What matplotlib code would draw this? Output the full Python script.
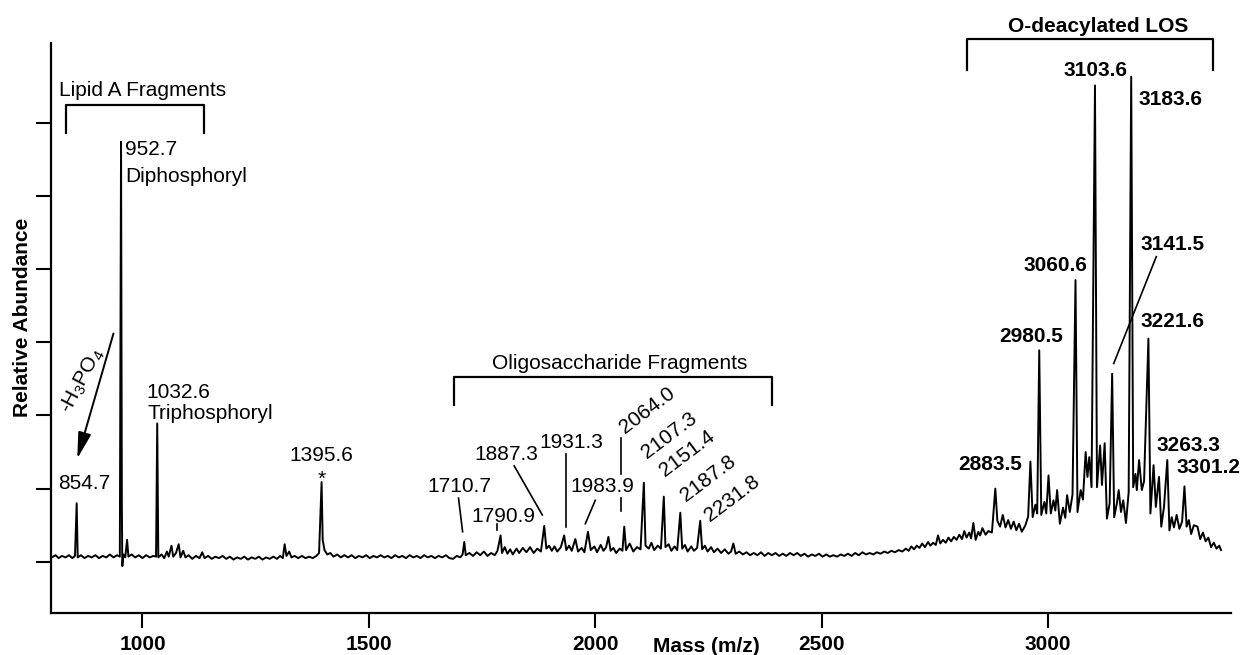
import matplotlib
matplotlib.use("Agg")
import matplotlib.pyplot as plt

plt.rcParams["font.family"] = ["Liberation Sans", "DejaVu Sans"]
plt.rcParams["mathtext.default"] = "regular"

# spectrum trace (m/z, abundance in y-tick units)
trace_mz = [
    800, 808, 815, 822, 830, 838, 845, 851, 854.7, 857, 864, 872, 880, 888, 896, 904,
    912, 920, 928, 936, 944, 950, 952.7, 954.5, 955.5, 958, 962, 966, 969, 976, 984,
    992, 1000, 1008, 1016, 1024, 1030, 1032.6, 1035, 1042, 1048, 1054, 1058, 1064,
    1068, 1074, 1080, 1084, 1090, 1095, 1102, 1110, 1118, 1126, 1132, 1137, 1145,
    1153, 1161, 1169, 1177, 1185, 1193, 1201, 1209, 1217, 1225, 1233, 1241, 1249,
    1257, 1265, 1273, 1281, 1289, 1297, 1304, 1310, 1314, 1318, 1324, 1329, 1336,
    1344, 1352, 1360, 1368, 1376, 1384, 1390, 1395.6, 1398, 1402, 1408, 1415, 1422,
    1430, 1438, 1446, 1454, 1462, 1470, 1478, 1486, 1494, 1502, 1510, 1518, 1526,
    1534, 1542, 1550, 1558, 1566, 1574, 1582, 1590, 1598, 1606, 1614, 1622, 1630,
    1638, 1646, 1654, 1662, 1670, 1678, 1686, 1694, 1702, 1707, 1710.7, 1714, 1722,
    1730, 1738, 1746, 1754, 1762, 1770, 1778, 1784, 1790.9, 1794, 1800, 1806, 1812,
    1818, 1826, 1832, 1840, 1848, 1856, 1864, 1872, 1880, 1887.3, 1892, 1898, 1904,
    1910, 1916, 1924, 1931.3, 1936, 1942, 1948, 1956, 1962, 1970, 1976, 1983.9, 1990,
    1998, 2004, 2012, 2018, 2024, 2029, 2034, 2040, 2046, 2054, 2060, 2064.0, 2068,
    2076, 2084, 2092, 2100, 2107.3, 2111, 2118, 2124, 2130, 2138, 2145, 2151.4, 2155,
    2162, 2168, 2175, 2181, 2187.8, 2192, 2198, 2204, 2212, 2218, 2225, 2231.8, 2236,
    2242, 2248, 2256, 2262, 2270, 2278, 2286, 2294, 2300, 2305, 2310, 2318, 2326,
    2334, 2342, 2350, 2358, 2366, 2374, 2382, 2390, 2398, 2406, 2414, 2422, 2430,
    2438, 2446, 2454, 2462, 2470, 2478, 2486, 2494, 2502, 2510, 2518, 2526, 2534,
    2542, 2550, 2558, 2566, 2574, 2582, 2590, 2598, 2606, 2614, 2622, 2630, 2638,
    2646, 2654, 2662, 2670, 2678, 2686, 2692, 2698, 2704, 2710, 2716, 2722, 2728,
    2735, 2740, 2746, 2752, 2757, 2762, 2768, 2774, 2780, 2786, 2792, 2798, 2804,
    2810, 2815, 2820, 2826, 2830, 2835, 2840, 2846, 2850, 2855, 2862, 2868, 2876,
    2883.5, 2888, 2894, 2900, 2906, 2912, 2918, 2924, 2930, 2936, 2942, 2950, 2956,
    2961, 2966, 2972, 2976, 2980.5, 2985, 2992, 2996, 3001, 3006, 3012, 3016, 3020,
    3026, 3033, 3038, 3042, 3048, 3054, 3060.6, 3065, 3072, 3077, 3083, 3087, 3091,
    3096, 3103.6, 3108, 3115, 3119, 3125, 3130, 3136, 3141.5, 3146, 3152, 3156, 3161,
    3166, 3172, 3178, 3183.6, 3188, 3193, 3196, 3201, 3207, 3212, 3221.6, 3226, 3233,
    3238, 3245, 3250, 3256, 3263.3, 3268, 3273, 3278, 3284, 3290, 3296, 3301.2, 3306,
    3311, 3316, 3322, 3330, 3336, 3342, 3348, 3354, 3360, 3366, 3372, 3378, 3382,
]
trace_ab = [
    .06, .09, .05, .08, .06, .09, .05, .08, .80, .06, .09, .05, .08, .06, .09, .05,
    .08, .06, .10, .06, .09, .07, 5.74, .75, -.06, .10, .06, .30, .07, .10, .06,
    .09, .05, .09, .06, .08, .07, 1.89, .06, .10, .05, .14, .07, .22,
    .07, .12, .24, .06, .15, .06, .09, .04, .08, .05, .13, .05, .08,
    .04, .07, .05, .08, .04, .07, .03, .06, .04, .07, .03, .06, .04,
    .07, .03, .06, .04, .07, .04, .08, .05, .24, .08, .14, .06, .08,
    .05, .08, .05, .07, .05, .08, .12, 1.09, .30, .16, .10, .12, .07,
    .10, .06, .09, .06, .09, .05, .08, .06, .09, .05, .08, .06, .09,
    .06, .08, .05, .09, .06, .08, .05, .09, .06, .08, .05, .09, .06,
    .08, .05, .08, .06, .09, .05, .04, .08, .06, .10, .27, .09, .12,
    .08, .13, .09, .14, .08, .12, .09, .15, .36, .12, .20, .11, .17,
    .10, .18, .12, .19, .13, .20, .12, .18, .14, .49, .18, .22, .15,
    .21, .14, .20, .36, .16, .22, .15, .31, .14, .19, .13, .41, .16,
    .21, .13, .23, .15, .20, .34, .15, .19, .12, .18, .15, .48, .16,
    .25, .14, .20, .17, 1.08, .22, .18, .26, .16, .22, .18, .89, .20,
    .24, .15, .21, .16, .67, .18, .23, .14, .21, .15, .19, .56, .17,
    .22, .14, .20, .13, .18, .12, .17, .11, .14, .25, .11, .14, .10,
    .13, .09, .12, .09, .13, .08, .12, .09, .12, .08, .11, .08, .12,
    .09, .12, .08, .11, .07, .10, .08, .11, .07, .10, .07, .09, .07,
    .10, .08, .11, .08, .12, .09, .13, .10, .12, .10, .13, .11, .14,
    .12, .15, .13, .16, .14, .18, .15, .21, .17, .22, .19, .25, .20,
    .27, .22, .26, .23, .36, .25, .30, .26, .33, .28, .34, .30, .37,
    .31, .42, .33, .40, .32, .53, .30, .41, .36, .46, .37, .42, .40,
    1.00, .56, .48, .64, .47, .57, .45, .55, .43, .52, .41, .50, .62,
    1.37, .61, .78, .66, 2.89, .64, .82, .66, 1.18, .66, .84, .70, .98,
    .52, .74, .60, .91, .68, .92, 3.85, .68, .98, .85, 1.50, 1.16, 1.43,
    1.02, 6.51, 1.02, 1.59, 1.05, 1.62, .59, .80, 2.57, .61, .80, .98, .68,
    .84, .53, .95, 6.63, 1.02, 1.20, .98, 1.39, .98, 1.10, 3.05, .66, 1.32,
    .75, 1.16, .48, .75, 1.39, .43, .61, .47, .64, .45, .55, 1.03, .48,
    .57, .38, .50, .48, .31, .40, .28, .33, .20, .26, .18, .22, .16,
]

x_ticks = [1000, 1500, 2000, 2500, 3000]
y_ticks = [0, 1, 2, 3, 4, 5, 6]

# group brackets: (left m/z, right m/z, top, bottom, label, label x, label y, weight)
brackets = [
    (830.5, 1136, 6.24, 5.86, "Lipid A Fragments", 1001, 6.37, "normal"),
    (1687, 2390, 2.53, 2.14, "Oligosaccharide Fragments", 2055, 2.64, "normal"),
    (2821, 3365, 7.15, 6.72, "O-deacylated LOS", 3111, 7.24, "bold"),
]

# horizontal peak labels: (text, x, y baseline, ha, weight)
peak_labels = [
    ("952.7", 961, 5.56, "left", "normal"),
    ("Diphosphoryl", 961, 5.19, "left", "normal"),
    ("1032.6", 1009, 2.24, "left", "normal"),
    ("Triphosphoryl", 1011, 1.95, "left", "normal"),
    ("854.7", 814, 0.99, "left", "normal"),
    ("1395.6", 1395.6, 1.38, "center", "normal"),
    ("1710.7", 1699, 0.96, "center", "normal"),
    ("1790.9", 1796, 0.55, "center", "normal"),
    ("1887.3", 1804, 1.39, "center", "normal"),
    ("1931.3", 1946, 1.55, "center", "normal"),
    ("1983.9", 2015, 0.96, "center", "normal"),
    ("3103.6", 3104, 6.64, "center", "bold"),
    ("3183.6", 3200, 6.24, "left", "bold"),
    ("3141.5", 3204, 4.26, "left", "bold"),
    ("3060.6", 3016, 3.98, "center", "bold"),
    ("3221.6", 3204, 3.21, "left", "bold"),
    ("2980.5", 2962, 3.01, "center", "bold"),
    ("2883.5", 2872, 1.25, "center", "bold"),
    ("3263.3", 3239, 1.52, "left", "bold"),
    ("3301.2", 3283, 1.21, "left", "bold"),
]

# slanted labels: (text, centre x, centre y)
slanted_labels = [
    ("2064.0", 2114, 2.07),
    ("2107.3", 2163, 1.73),
    ("2151.4", 2204, 1.48),
    ("2187.8", 2250, 1.14),
    ("2231.8", 2302, 0.87),
]

# leader lines: (x0, y0, x1, y1)
leaders = [
    (1698, 0.87, 1707, 0.41),
    (1784, 0.52, 1784, 0.43),
    (1821, 1.31, 1883, 0.64),
    (1935, 1.47, 1935, 0.48),
    (2000, 0.84, 1978, 0.52),
    (2057, 1.69, 2057, 1.20),
    (2057, 0.87, 2057, 0.70),
    (3239, 4.17, 3145, 2.71),
]

fig = plt.figure(figsize=(12.42, 6.55), dpi=100)
ax = fig.add_axes([51 / 1242, 42 / 655, 1180 / 1242, 570 / 655])

ax.plot(trace_mz, trace_ab, color="black", lw=1.4)

for x0, x1, ytop, ybot, label, lx, ly, weight in brackets:
    ax.plot([x0, x0, x1, x1], [ybot, ytop, ytop, ybot], color="black",
            lw=1.6, clip_on=False)
    ax.text(lx, ly, label, ha="center", va="baseline", fontsize=15,
            fontweight=weight)

for text, x, y, ha, weight in peak_labels:
    ax.text(x, y, text, ha=ha, va="baseline", fontsize=15, fontweight=weight)

ax.text(1395.6, 1.05, "*", ha="center", va="baseline", fontsize=15)

for text, x, y in slanted_labels:
    ax.text(x, y, text, ha="center", va="center", rotation=37,
            rotation_mode="anchor", fontsize=15)

for x0, y0, x1, y1 in leaders:
    ax.plot([x0, x1], [y0, y1], color="black", lw=1.2)

ax.annotate("", xy=(856, 1.41), xytext=(936, 3.12),
            arrowprops=dict(arrowstyle="-|>,head_length=0.8,head_width=0.2",
                            color="black", lw=1.4, mutation_scale=20,
                            shrinkA=0, shrinkB=0))
ax.text(866, 2.47, r"-H$_3$PO$_4$", ha="center", va="center", rotation=62,
        rotation_mode="anchor", fontsize=15)

ax.set_xlim(798, 3404)
ax.set_ylim(-0.70, 7.09)
ax.set_xticks(x_ticks)
ax.set_yticks(y_ticks)
ax.set_yticklabels([])
ax.tick_params(axis="both", direction="out", length=10.5, width=1.5)
ax.tick_params(axis="x", pad=5, labelsize=15)
for lbl in ax.get_xticklabels():
    lbl.set_fontweight("bold")

for side in ["top", "right"]:
    ax.spines[side].set_visible(False)
for side in ["left", "bottom"]:
    ax.spines[side].set_linewidth(1.6)

ax.set_xlabel("Mass (m/z)", fontsize=15, fontweight="bold", va="center")
ax.xaxis.set_label_coords(0.5557, -0.059)
ax.set_ylabel("Relative Abundance", fontsize=15, fontweight="bold", va="center")
ax.yaxis.set_label_coords(-0.0242, 0.519)

fig.savefig("out.png", dpi=100)
